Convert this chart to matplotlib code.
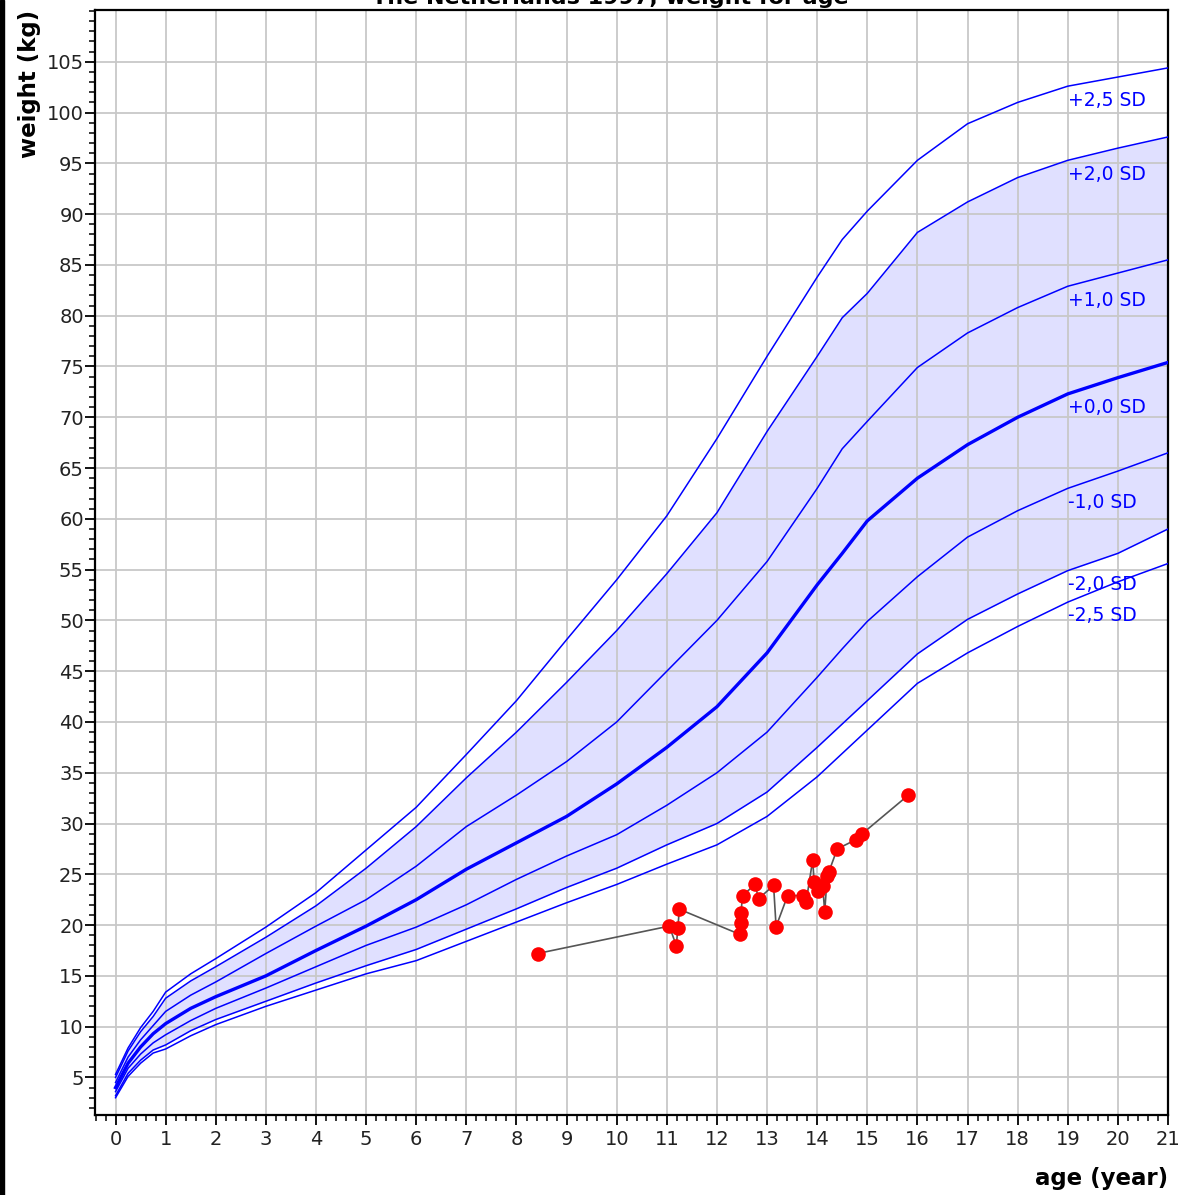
import matplotlib
matplotlib.use("Agg")
import matplotlib.pyplot as plt
from matplotlib.ticker import MultipleLocator
from matplotlib.patches import Rectangle

plt.rcParams['font.family'] = ['DejaVu Sans']

# reference curves (Dutch growth study 1997), weight in kg by age in years
ages = [0, 0.25, 0.5, 0.75, 1, 1.5, 2, 3, 4, 5, 6, 7, 8, 9, 10, 11, 12, 13, 14, 14.5, 15, 16, 17, 18, 19, 20, 21]

sd_p25 = [5.3, 7.9, 9.9, 11.5, 13.4, 15.2, 16.7, 19.8, 23.2, 27.4, 31.6, 36.8, 42.1, 48.1, 54.0, 60.3, 67.9, 76.0, 83.8, 87.5, 90.3, 95.3, 98.9, 101.0, 102.6, 103.5, 104.4]
sd_p20 = [5.0, 7.6, 9.5, 11.0, 12.8, 14.5, 15.9, 18.8, 21.9, 25.6, 29.7, 34.5, 39.0, 43.9, 49.0, 54.6, 60.6, 68.6, 76.0, 79.8, 82.2, 88.2, 91.2, 93.6, 95.3, 96.5, 97.6]
sd_p10 = [4.5, 7.0, 8.7, 10.1, 11.5, 13.1, 14.4, 17.2, 19.9, 22.5, 25.8, 29.7, 32.8, 36.1, 40.0, 45.0, 50.0, 55.8, 63.0, 66.9, 69.6, 74.9, 78.3, 80.8, 82.9, 84.2, 85.5]
sd_000 = [4.0, 6.4, 8.0, 9.3, 10.3, 11.8, 12.95, 15.0, 17.5, 19.9, 22.5, 25.5, 28.1, 30.7, 33.9, 37.5, 41.5, 46.8, 53.5, 56.6, 59.8, 64.0, 67.3, 70.0, 72.3, 73.9, 75.4]
sd_m10 = [3.6, 5.9, 7.3, 8.4, 9.2, 10.6, 11.8, 13.8, 15.9, 18.0, 19.8, 22.0, 24.5, 26.8, 28.9, 31.8, 35.0, 39.0, 44.4, 47.2, 49.9, 54.3, 58.2, 60.8, 63.0, 64.7, 66.5]
sd_m20 = [3.2, 5.4, 6.7, 7.7, 8.2, 9.6, 10.7, 12.5, 14.3, 16.0, 17.6, 19.6, 21.6, 23.7, 25.6, 27.9, 30.0, 33.1, 37.5, 39.8, 42.1, 46.7, 50.1, 52.6, 54.9, 56.6, 59.0]
sd_m25 = [3.0, 5.1, 6.4, 7.4, 7.8, 9.1, 10.2, 12.0, 13.6, 15.2, 16.5, 18.4, 20.3, 22.2, 24.0, 26.0, 27.9, 30.7, 34.6, 36.9, 39.2, 43.8, 46.8, 49.4, 51.8, 53.8, 55.6]

sd_labels = ["+2,5 SD", "+2,0 SD", "+1,0 SD", "+0,0 SD", "-1,0 SD", "-2,0 SD", "-2,5 SD"]

# measurements of the child
pt_age = [8.42, 11.05, 11.19, 11.22, 11.25, 12.45, 12.47, 12.48, 12.51, 12.76, 12.83, 13.13, 13.18,
          13.41, 13.71, 13.78, 13.91, 13.94, 14.01, 14.11, 14.15, 14.20, 14.23, 14.40, 14.77, 14.90, 15.82]
pt_weight = [17.2, 19.9, 17.95, 19.75, 21.56, 19.1, 20.2, 21.2, 22.9, 24.0, 22.6, 23.9, 19.85,
             22.9, 22.9, 22.3, 26.4, 24.2, 23.4, 23.85, 21.3, 24.8, 25.2, 27.5, 28.4, 29.0, 32.8]

W, H = 1182, 1195


def main():

    fig = plt.figure(figsize=(W / 100, H / 100), dpi=100)
    ax = fig.add_axes([95 / W, 1 - 1115 / H, 1073 / W, 1105 / H])

    # band between -2 and +2 SD
    ax.fill_between(ages, sd_m20, sd_p20, color='#e0e0ff', lw=0, zorder=1)

    curves = [sd_p25, sd_p20, sd_p10, sd_000, sd_m10, sd_m20, sd_m25]
    for curve, lab in zip(curves, sd_labels):
        lw = 2.4 if lab == "+0,0 SD" else 1.1
        ax.plot(ages, curve, color='#0000ff', lw=lw, zorder=3)
        ax.annotate(lab, (19.0, curve[ages.index(19)]), xytext=(0, -10),
                    textcoords='offset points', ha='left', va='center',
                    fontsize=13.5, color='#0000ff', zorder=4)

    ax.plot(pt_age, pt_weight, color='#555555', lw=1.2, zorder=5)
    ax.plot(pt_age, pt_weight, 'o', color='#ff0000', markersize=10.5, mec='none', zorder=6)

    ax.set_xlim(-0.41, 21)
    ax.set_ylim(1.3, 110.1)

    ax.xaxis.set_major_locator(MultipleLocator(1))
    ax.xaxis.set_minor_locator(MultipleLocator(0.2))
    ax.yaxis.set_major_locator(MultipleLocator(5))
    ax.yaxis.set_minor_locator(MultipleLocator(1))
    ax.set_yticks(range(5, 106, 5))

    ax.grid(True, which='major', color='#c8c8c8', lw=1.3)
    ax.tick_params(which='major', direction='out', length=7, width=1.3, labelsize=14,
                   labelcolor='#222222', pad=1)
    ax.tick_params(which='minor', direction='out', length=4, width=1.1)
    ax.tick_params(axis='x', pad=4)

    for sp in ax.spines.values():
        sp.set_linewidth(1.6)
        sp.set_color('black')

    ax.set_xlabel("age (year)", loc='right', fontsize=16.5, fontweight='bold', labelpad=13)
    ax.set_ylabel("weight (kg)", loc='top', fontsize=16.5, fontweight='bold', labelpad=4)

    fig.text(610 / W, 1 - 4 / H, "The Netherlands 1997, weight for age", ha='center',
             va='baseline', fontsize=16, fontweight='bold')

    # dark window border at the left edge
    fig.patches.append(Rectangle((0, 0), 4 / W, 1, transform=fig.transFigure,
                                 color='black', zorder=10))

    plt.savefig("out.png", dpi=100)
    plt.close()


if __name__ == "__main__":
    main()
